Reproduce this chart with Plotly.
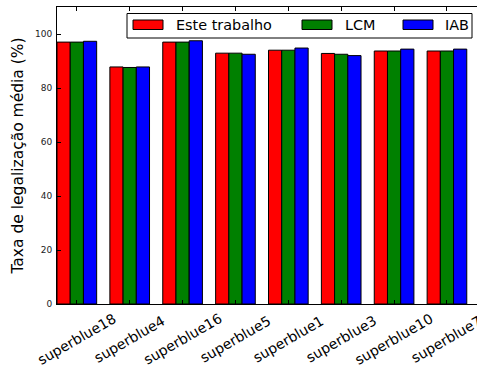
import plotly.graph_objects as go

# Benchmarks and average legalization rate (%) per method
circuits = ["superblue18", "superblue4", "superblue16", "superblue5",
            "superblue1", "superblue3", "superblue10", "superblue7"]
este_trabalho = [97.0, 87.8, 97.0, 92.9, 94.0, 92.8, 93.7, 93.7]
lcm = [97.0, 87.6, 97.0, 92.9, 94.0, 92.5, 93.7, 93.7]
iab = [97.3, 87.8, 97.5, 92.5, 94.8, 92.0, 94.4, 94.4]

series_names = ["Este trabalho", "LCM", "IAB"]
series_colors = ["#ff0000", "#008000", "#0000ff"]
y_ticks = [0, 20, 40, 60, 80, 100]

FONT = "DejaVu Sans"
W, H = 477, 368
ML, MR, MT, MB = 57, 0, 7, 64
PW, PH = W - ML - MR, H - MT - MB

fig = go.Figure()
for name, color, vals in zip(series_names, series_colors, [este_trabalho, lcm, iab]):
    fig.add_trace(go.Bar(
        x=circuits, y=vals, name=name,
        marker=dict(color=color, line=dict(color="black", width=1)),
        showlegend=False,
    ))

# x extent: one unit per benchmark, the last group running past the right edge
pitch = (480 - ML) / 8.0
x_end = -0.375 + PW / pitch

fig.update_layout(
    width=W, height=H, autosize=False,
    margin=dict(l=ML, r=MR, t=MT, b=MB, pad=0),
    plot_bgcolor="white", paper_bgcolor="white",
    barmode="group", bargap=0.25, bargroupgap=0.0,
    font=dict(family=FONT, color="black"),
    xaxis=dict(
        range=[-0.375, x_end], showline=True, linecolor="black", linewidth=1,
        mirror="ticks", ticks="inside", ticklen=4, tickcolor="black",
        showticklabels=False, showgrid=False, zeroline=False, automargin=False,
    ),
    yaxis=dict(
        range=[0, 110], tickvals=y_ticks, showline=True, linecolor="black",
        linewidth=1, ticks="inside", ticklen=4, tickcolor="black",
        tickfont=dict(family=FONT, size=9, color="#222"), ticklabelstandoff=2,
        showgrid=False, zeroline=False, automargin=False,
        title=dict(text="Taxa de legalização média (%)",
                   font=dict(family=FONT, size=15.5, color="black"), standoff=7),
    ),
)

# Rotated benchmark names, centred under each group
for c in circuits:
    fig.add_annotation(
        x=c, xref="x", y=0, yref="paper", yshift=-35,
        text=c, textangle=-30, showarrow=False,
        xanchor="center", yanchor="middle",
        font=dict(family=FONT, size=14, color="black"),
    )


def px_x(px):
    return (px - ML) / PW


def px_y(py):
    return (H - MB - py) / PH


# Legend box
fig.add_shape(type="rect", xref="paper", yref="paper",
              x0=px_x(127), x1=px_x(472), y0=px_y(38), y1=px_y(13.5),
              line=dict(color="black", width=1), fillcolor="white", layer="above")
patch_x = [133, 302, 403]
text_x = [174, 343, 443]
for name, color, px0, tx in zip(series_names, series_colors, patch_x, text_x):
    fig.add_shape(type="rect", xref="paper", yref="paper",
                  x0=px_x(px0), x1=px_x(px0 + 30), y0=px_y(29.5), y1=px_y(20),
                  line=dict(color="black", width=1), fillcolor=color, layer="above")
    fig.add_annotation(
        x=px_x(tx), xref="paper", y=px_y(25), yref="paper",
        text=name, showarrow=False, xanchor="left", yanchor="middle",
        font=dict(family=FONT, size=14.4, color="black"),
    )

fig.write_html("out.html")
